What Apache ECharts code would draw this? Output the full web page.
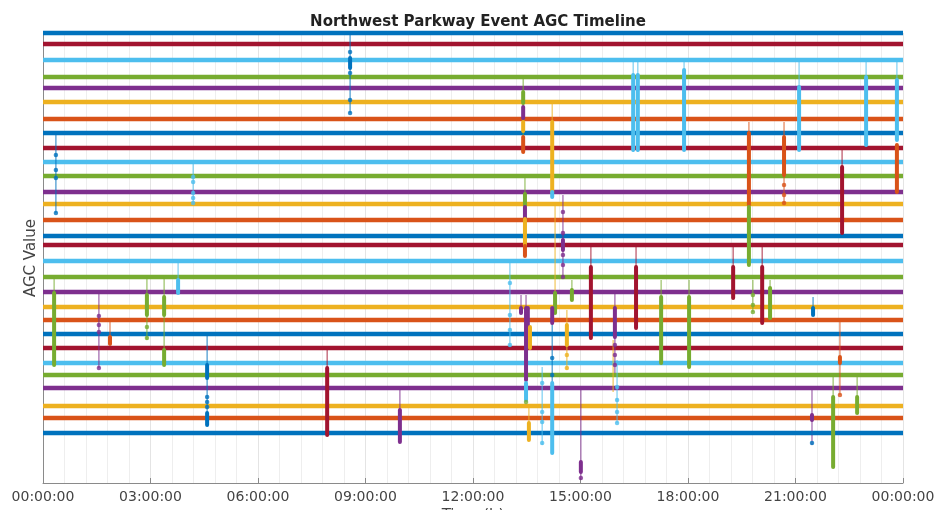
<!DOCTYPE html>
<html><head><meta charset="utf-8">
<script src="https://cdn.jsdelivr.net/npm/echarts@6/dist/echarts.min.js"></script>
<style>html,body{margin:0;padding:0;background:#fff}#c{width:937px;height:510px}</style>
</head><body><div id="c"></div>
<script>
// MATLAB default colour order
const palette = {B:'#0072BD', O:'#D95319', Y:'#EDB120', P:'#7E2F8E', G:'#77AC30', L:'#4DBEEE', R:'#A2142F'};
const colorOrder = ['B','O','Y','P','G','L','R'];

const xRange = [0, 24];        // hours of the day
const xTickHours = 3;

// AGC levels (bottom to top), coloured in plotting order
const levelValues = [50, 65, 77, 95, 108, 120, 135, 149, 163, 176, 191, 206, 222, 238, 247,
  263, 279, 291, 307, 321, 335, 350, 364, 381, 395, 406, 423, 439, 450];

// [hour, from AGC, to AGC, colour]
const thinSegments = [
  [0.36,350,270,'B'],[0.31,205,118,'G'],[1.56,189,115,'P'],[1.87,163,140,'O'],[2.90,206,143,'G'],
  [3.38,206,118,'G'],[3.77,221,190,'L'],[4.19,320,280,'L'],[4.58,148,58,'B'],[7.93,133,48,'R'],
  [8.57,450,370,'B'],[9.96,93,41,'P'],[13.03,220,136,'L'],[13.40,405,331,'G'],[14.21,380,361,'Y'],
  [13.45,305,289,'G'],[14.29,280,190,'Y'],[14.51,288,206,'P'],[15.29,236,145,'R'],[13.34,188,170,'P'],
  [13.48,188,103,'P'],[13.56,75,43,'Y'],[13.93,116,38,'L'],[14.21,160,100,'B'],[14.62,173,113,'Y'],
  [14.76,203,183,'G'],[15.01,93,3,'P'],[15.96,190,110,'P'],[15.91,143,91,'Y'],[16.02,123,60,'L'],
  [16.47,421,331,'L'],[16.60,421,331,'L'],[16.55,236,155,'R'],[17.25,203,120,'G'],[17.89,421,333,'L'],
  [18.03,203,116,'G'],[19.26,236,185,'R'],[19.70,361,278,'O'],[19.81,203,171,'G'],[20.07,236,160,'R'],
  [20.29,203,165,'G'],[20.68,361,280,'O'],[21.10,421,333,'L'],[21.49,186,168,'B'],[22.30,333,250,'R'],
  [22.97,421,338,'L'],[23.83,421,343,'L'],[22.24,161,88,'O'],[21.46,93,38,'P'],[22.05,106,16,'G'],
  [22.72,106,70,'G']
];

// [hour, from AGC, to AGC, colour]
const thickSegments = [
  [0.31,190,118,'G'],[1.87,146,139,'O'],[2.90,188,168,'G'],[3.38,186,168,'G'],[3.38,133,118,'G'],
  [3.77,203,190,'L'],[4.58,118,105,'B'],[4.58,70,58,'B'],[7.93,115,48,'R'],[8.57,425,415,'B'],
  [9.96,73,41,'P'],[13.40,391,380,'G'],[13.40,376,365,'P'],[13.40,361,352,'Y'],[13.40,346,331,'O'],
  [14.21,361,291,'Y'],[14.21,291,286,'L'],[13.45,289,277,'G'],[13.45,276,264,'P'],[13.45,264,237,'Y'],
  [13.45,237,227,'O'],[14.29,190,170,'G'],[14.51,243,233,'P'],[15.29,216,145,'R'],[13.34,175,170,'P'],
  [13.48,175,150,'P'],[13.53,175,150,'P'],[13.48,150,103,'P'],[13.48,100,83,'L'],[13.59,156,135,'Y'],
  [13.56,60,43,'Y'],[14.21,175,160,'P'],[14.21,100,30,'L'],[14.62,158,138,'Y'],[14.76,193,183,'G'],
  [15.01,21,11,'P'],[15.96,175,146,'P'],[16.47,408,333,'L'],[16.60,408,333,'L'],[16.55,216,155,'R'],
  [17.25,186,120,'G'],[17.89,413,333,'L'],[18.03,186,116,'G'],[19.26,216,185,'R'],[19.70,350,278,'O'],
  [19.70,276,218,'G'],[20.07,216,160,'R'],[20.29,195,165,'G'],[20.68,346,308,'O'],[21.10,396,333,'L'],
  [21.49,175,168,'B'],[22.30,316,250,'R'],[22.97,406,338,'L'],[23.83,403,343,'L'],[23.83,338,291,'O'],
  [22.24,126,120,'O'],[21.46,68,63,'P'],[22.05,86,16,'G'],[22.72,86,70,'G']
];

// [hour, AGC, colour]
const eventDots = [
  [0.36,328,'B'],[0.36,313,'B'],[0.36,305,'B'],[0.36,270,'B'],
  [1.56,167,'P'],[1.56,158,'P'],[1.56,151,'P'],[1.56,115,'P'],
  [2.90,156,'G'],[2.90,145,'G'],
  [4.19,306,'L'],[4.19,301,'L'],[4.19,290,'L'],[4.19,285,'L'],[4.19,280,'L'],
  [4.58,86,'B'],[4.58,81,'B'],[4.58,76,'B'],
  [8.57,431,'B'],[8.57,410,'B'],[8.57,383,'B'],[8.57,370,'B'],
  [13.03,200,'L'],[13.03,168,'L'],[13.03,153,'L'],[13.03,138,'L'],
  [13.48,81,'G'],
  [13.93,100,'L'],[13.93,71,'L'],[13.93,61,'L'],[13.93,40,'L'],
  [14.21,125,'B'],[14.21,108,'B'],
  [14.51,271,'P'],[14.51,250,'P'],[14.51,228,'P'],[14.51,218,'P'],[14.51,206,'P'],
  [14.62,128,'Y'],[14.62,115,'Y'],
  [15.01,5,'P'],
  [15.96,138,'P'],[15.96,128,'P'],[15.96,118,'P'],
  [16.02,96,'L'],[16.02,83,'L'],[16.02,71,'L'],[16.02,60,'L'],
  [19.81,188,'G'],[19.81,178,'G'],[19.81,171,'G'],
  [20.68,298,'O'],[20.68,288,'O'],[20.68,280,'O'],
  [22.24,88,'O'],
  [21.46,50,'B'],[21.46,40,'B']
];

const chart = echarts.init(document.getElementById('c'), null, {renderer:'canvas'});

function levelRender(params, api) {
  const v = api.value(0);
  const p1 = api.coord([xRange[0], v]);
  const p2 = api.coord([xRange[1], v]);
  return {type:'line', shape:{x1:p1[0], y1:p1[1], x2:p2[0], y2:p2[1]},
    style:{stroke: palette[colorOrder[params.dataIndex % 7]], lineWidth:4.5, lineCap:'butt'}};
}
function segRender(list, width, opacity, cap) {
  return function(params, api) {
    const h = api.value(0);
    const p1 = api.coord([h, api.value(1)]);
    const p2 = api.coord([h, api.value(2)]);
    return {type:'line', shape:{x1:p1[0], y1:p1[1], x2:p2[0], y2:p2[1]},
      style:{stroke: palette[list[params.dataIndex][3]], lineWidth:width, opacity:opacity, lineCap:cap}};
  };
}
const pad = n => String(n).padStart(2,'0');
const textColor = '#444';
const font = 'DejaVu Sans';

chart.setOption({
  animation:false,
  backgroundColor:'#fff',
  title:{text:'Northwest Parkway Event AGC Timeline', left:473, top:10, textAlign:'center',
    textStyle:{fontFamily:font, fontSize:15, fontWeight:'bold', color:'#222'}},
  grid:{left:43, right:34, top:33, bottom:27, containLabel:false, outerBoundsMode:'none'},
  xAxis:{type:'value', min:xRange[0], max:xRange[1], interval:xTickHours,
    name:'Time (h)', nameLocation:'middle', nameGap:22,
    nameTextStyle:{fontFamily:font, fontSize:15, color:textColor},
    axisLine:{show:true, lineStyle:{color:'#8a8a8a', width:1}},
    axisTick:{show:true, inside:true, length:5, lineStyle:{color:'#8a8a8a'}},
    axisLabel:{fontFamily:font, fontSize:14, color:textColor, margin:7,
      formatter: v => pad(Math.round(v) % 24) + ':00:00'},
    splitLine:{show:true, lineStyle:{color:'#e4e4e4', width:1}},
    minorTick:{show:false, splitNumber:5},
    minorSplitLine:{show:true, lineStyle:{color:'#eeeeee', width:1}}
  },
  yAxis:{type:'value', min:0, max:450, name:'AGC Value', nameLocation:'middle', nameGap:4,
    nameRotate:90,
    nameTextStyle:{fontFamily:font, fontSize:15, color:textColor},
    axisLine:{show:true, lineStyle:{color:'#8a8a8a', width:1}},
    axisTick:{show:false}, axisLabel:{show:false}, splitLine:{show:false}},
  series:[
    {type:'custom', renderItem:levelRender, data:levelValues.map(v => [v]), encode:{y:0}, z:1},
    {type:'custom', renderItem:segRender(thinSegments, 1.2, 0.75, 'butt'),
      data:thinSegments.map(s => [s[0], s[1], s[2]]), encode:{x:0, y:[1,2]}, z:2},
    {type:'custom', renderItem:segRender(thickSegments, 4, 1, 'round'),
      data:thickSegments.map(s => [s[0], s[1], s[2]]), encode:{x:0, y:[1,2]}, z:3},
    {type:'scatter', symbolSize:4.5, z:4,
      data:eventDots.map(d => ({value:[d[0], d[1]], itemStyle:{color:palette[d[2]]}}))}
  ]
});
</script></body></html>
